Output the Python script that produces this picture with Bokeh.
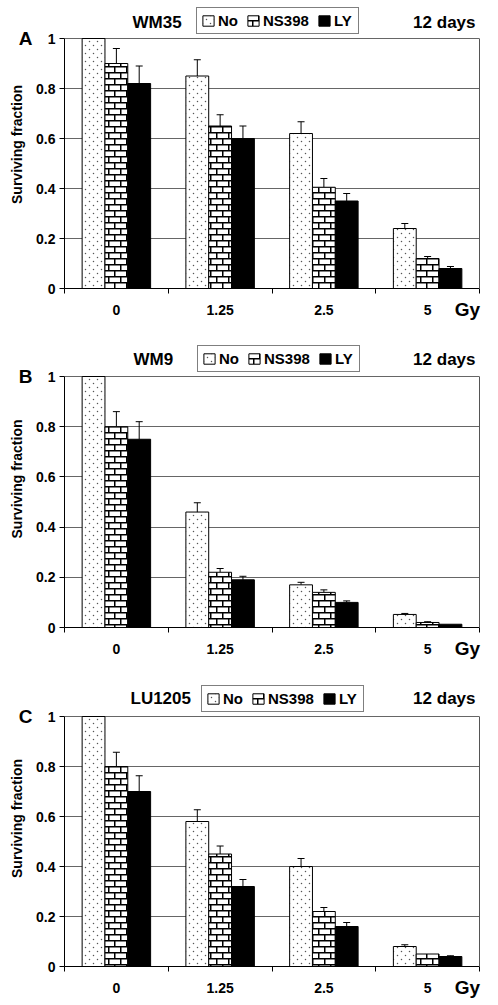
import base64
from bokeh.plotting import figure
from bokeh.models import (Range1d, FixedTicker, NumeralTickFormatter, Whisker,
                          ColumnDataSource, Label, Legend, LegendItem, TeeHead,
                          ImageURLTexture, LinearAxis)
from bokeh.core.properties import value
from bokeh.layouts import column
from bokeh.embed import file_html
from bokeh.resources import INLINE

# ---------------- data ----------------
categories = ["0", "1.25", "2.5", "5"]
series = ["No", "NS398", "LY"]

a_no = [1.0, 0.85, 0.62, 0.24]
a_no_err = [0.0, 0.065, 0.047, 0.02]
a_ns = [0.90, 0.65, 0.405, 0.12]
a_ns_err = [0.06, 0.045, 0.035, 0.008]
a_ly = [0.82, 0.60, 0.35, 0.08]
a_ly_err = [0.07, 0.05, 0.03, 0.008]

b_no = [1.0, 0.46, 0.17, 0.052]
b_no_err = [0.0, 0.037, 0.01, 0.004]
b_ns = [0.80, 0.22, 0.14, 0.02]
b_ns_err = [0.06, 0.015, 0.01, 0.003]
b_ly = [0.75, 0.19, 0.10, 0.013]
b_ly_err = [0.07, 0.014, 0.006, 0.0]

c_no = [1.0, 0.58, 0.40, 0.08]
c_no_err = [0.0, 0.047, 0.032, 0.007]
c_ns = [0.80, 0.45, 0.22, 0.05]
c_ns_err = [0.057, 0.032, 0.016, 0.0]
c_ly = [0.70, 0.32, 0.16, 0.04]
c_ly_err = [0.063, 0.028, 0.016, 0.003]

y_ticks = [0, 0.2, 0.4, 0.6, 0.8, 1.0]
cell_lines = ["WM35", "WM9", "LU1205"]
panel_letters = ["A", "B", "C"]
right_note = "12 days"
unit_label = "Gy"
y_label = "Surviving fraction"

FONT = "Liberation Sans"


def svg_texture(svg):
    b64 = base64.b64encode(svg.encode()).decode()
    return ImageURLTexture(url="data:image/svg+xml;base64," + b64)


dots_tex = svg_texture(
    '<svg xmlns="http://www.w3.org/2000/svg" width="8" height="8">'
    '<circle cx="1.5" cy="1.5" r="0.75" fill="#555"/>'
    '<circle cx="5.5" cy="5.5" r="0.75" fill="#555"/></svg>')
brick_tex = svg_texture(
    '<svg xmlns="http://www.w3.org/2000/svg" width="12" height="12">'
    '<path d="M0 0.75H12M0 6.75H12M0.75 0.75V6.75M6.75 6.75V12" '
    'stroke="#000" stroke-width="1.5" fill="none"/></svg>')

FRAME_W = 415
PPX = FRAME_W / len(categories)

panels = [
    dict(letter=panel_letters[0], title=cell_lines[0],
         vals=[a_no, a_ns, a_ly], errs=[a_no_err, a_ns_err, a_ly_err],
         height=330, above1=38, ppu=250, bottom=42, leg=(132, 254),
         title_dx=68, title_dy=16),
    dict(letter=panel_letters[1], title=cell_lines[1],
         vals=[b_no, b_ns, b_ly], errs=[b_no_err, b_ns_err, b_ly_err],
         height=340, above1=46, ppu=251, bottom=43, leg=(133, 255),
         title_dx=69, title_dy=17),
    dict(letter=panel_letters[2], title=cell_lines[2],
         vals=[c_no, c_ns, c_ly], errs=[c_no_err, c_ns_err, c_ly_err],
         height=335, above1=46, ppu=250, bottom=39, leg=(137, 254),
         title_dx=66, title_dy=18),
]

BAR_W = 0.22
offsets = [-0.22, 0.0, 0.22]
styles = [
    dict(fill_color="white", hatch_pattern=value("dots"),
         hatch_extra={"dots": dots_tex}),
    dict(fill_color="white", hatch_pattern=value("brick"),
         hatch_extra={"brick": brick_tex}),
    dict(fill_color="black"),
]


def style_axis(ax, size="14px"):
    ax.axis_line_color = "black"
    ax.major_tick_line_color = "black"
    ax.minor_tick_line_color = "black"
    ax.major_label_text_font = FONT
    ax.major_label_text_font_style = "bold"
    ax.major_label_text_font_size = size
    ax.major_label_text_color = "black"
    ax.axis_label_text_font = FONT
    ax.axis_label_text_font_style = "bold"
    ax.axis_label_text_font_size = "14px"
    ax.axis_label_text_color = "black"


figs = []
for pn in panels:
    n = len(categories)
    y_end = 1 + pn["above1"] / pn["ppu"]
    p = figure(width=498, height=pn["height"], x_range=Range1d(0, n),
               y_range=Range1d(0, y_end), output_backend="svg",
               toolbar_location=None, min_border_left=64,
               min_border_right=19, min_border_top=0,
               min_border_bottom=pn["bottom"])
    p.title.visible = False
    p.outline_line_color = None
    p.background_fill_color = "white"
    p.border_fill_color = "white"

    items = []
    for si, name in enumerate(series):
        xs = [i + 0.5 + offsets[si] for i in range(n)]
        r = p.vbar(x=xs, top=pn["vals"][si], width=BAR_W, bottom=0,
                   line_color="black", line_width=1, **styles[si])
        items.append(LegendItem(label=name, renderers=[r]))
        wx = [x for x, e in zip(xs, pn["errs"][si]) if e > 0]
        wl = [v for v, e in zip(pn["vals"][si], pn["errs"][si]) if e > 0]
        wu = [v + e for v, e in zip(pn["vals"][si], pn["errs"][si]) if e > 0]
        src = ColumnDataSource(dict(x=wx, lower=wl, upper=wu))
        w = Whisker(source=src, base="x", lower="lower", upper="upper",
                    dimension="height", line_color="black", line_width=1,
                    lower_head=None,
                    upper_head=TeeHead(size=7, line_color="black", line_width=1))
        p.add_layout(w)

    # x axis (category labels at centres, ticks at group boundaries)
    xa = p.xaxis[0]
    style_axis(xa)
    xa.ticker = FixedTicker(ticks=[i + 0.5 for i in range(n)],
                            minor_ticks=list(range(n + 1)))
    xa.major_label_overrides = {i + 0.5: c for i, c in enumerate(categories)}
    xa.major_tick_out = 0
    xa.major_tick_in = 0
    xa.minor_tick_out = 5
    xa.minor_tick_in = 0
    xa.major_label_standoff = 11

    # second bottom axis carrying only the unit label near the right end
    gy_pos = n - 12 / PPX
    gx = LinearAxis(ticker=FixedTicker(ticks=[gy_pos]),
                    major_label_overrides={gy_pos: unit_label})
    style_axis(gx, size="19px")
    gx.axis_line_color = None
    gx.major_tick_line_color = None
    gx.major_tick_out = 0
    gx.major_tick_in = 0
    gx.minor_tick_out = 0
    gx.minor_tick_in = 0
    gx.major_label_standoff = -19
    p.add_layout(gx, "below")

    # main y axis
    ya = p.yaxis[0]
    style_axis(ya)
    ya.bounds = (0, 1)
    ya.ticker = FixedTicker(ticks=y_ticks)
    ya.formatter = NumeralTickFormatter(format="0.[0]")
    ya.major_tick_out = 5
    ya.major_tick_in = 0
    ya.minor_tick_out = 0
    ya.minor_tick_in = 0
    ya.major_label_standoff = 4

    # outer y axis carrying panel letter and y label
    ya2 = LinearAxis(ticker=FixedTicker(ticks=[1]),
                     major_label_overrides={1: pn["letter"]})
    style_axis(ya2, size="19px")
    ya2.axis_line_color = None
    ya2.major_tick_line_color = None
    ya2.major_tick_out = 0
    ya2.major_tick_in = 0
    ya2.minor_tick_out = 0
    ya2.minor_tick_in = 0
    ya2.major_label_standoff = 1
    ya2.axis_label = y_label
    ya2.axis_label_standoff = -9
    p.add_layout(ya2, "left")

    # right frame edge
    ra = LinearAxis(ticker=FixedTicker(ticks=[]), bounds=(0, 1))
    ra.axis_line_color = "#555555"
    ra.major_label_standoff = 0
    ra.major_tick_out = 0
    ra.major_tick_in = 0
    ra.minor_tick_out = 0
    ra.minor_tick_in = 0
    p.add_layout(ra, "right")

    p.xgrid.visible = False
    p.ygrid.ticker = FixedTicker(ticks=y_ticks)
    p.ygrid.grid_line_color = "#666666"
    p.ygrid.grid_line_width = 1

    # legend
    leg = Legend(items=items, orientation="horizontal", location=pn["leg"],
                 label_text_font=FONT, label_text_font_style="bold",
                 label_text_font_size="15px", label_text_color="black",
                 glyph_width=14, glyph_height=13, label_standoff=3,
                 spacing=8, padding=4, margin=0, label_height=17,
                 border_line_color="black", border_line_width=1,
                 background_fill_color="white", background_fill_alpha=1)
    p.add_layout(leg)

    # header texts (inside the extended frame)
    ty = 1 + pn["title_dy"] / pn["ppu"]
    p.add_layout(Label(x=pn["title_dx"] / PPX, y=ty, text=pn["title"],
                       text_font=FONT, text_font_style="bold",
                       text_font_size="17px", text_baseline="middle",
                       text_align="left", text_color="black"))
    p.add_layout(Label(x=n - 4 / PPX, y=ty, text=right_note,
                       text_font=FONT, text_font_style="bold",
                       text_font_size="17px", text_baseline="middle",
                       text_align="right", text_color="black"))
    figs.append(p)

layout = column(*figs, spacing=0)
open("out.html", "w").write(file_html(layout, INLINE))
